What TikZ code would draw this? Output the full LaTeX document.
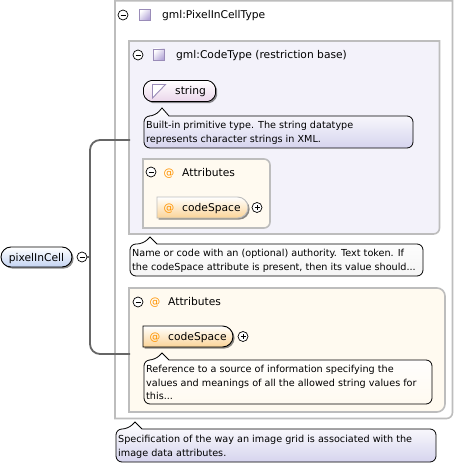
\documentclass[tikz,border=0pt]{standalone}
\usepackage{fontspec}
\setmainfont{DejaVu Sans}
\usetikzlibrary{shadows,calc,shapes.misc}
\definecolor{boxgrey}{HTML}{BDBDBD}
\definecolor{lav}{HTML}{F3F2FA}
\definecolor{cream}{HTML}{FFFAF0}
\definecolor{conn}{HTML}{666666}
\definecolor{lavdeep}{HTML}{D6D4EE}
\definecolor{orangedeep}{HTML}{FBD497}
\definecolor{bluedeep}{HTML}{C4D4F2}
\definecolor{iconedge}{HTML}{9A8CB8}
\definecolor{icondeep}{HTML}{B4A6D8}
\newcommand{\txs}{\fontsize{9.65}{13.8}\selectfont}
\newcommand{\lbl}{\fontsize{10.7}{14}\selectfont}
\tikzset{
  panel/.style={draw=boxgrey,line width=1.6pt},
  note/.style={anchor=west,inner sep=0pt,align=left,font=\txs,text=black},
  lab/.style={anchor=west,inner sep=0pt,font=\lbl,text=black,text height=9pt,text depth=1pt},
  toggle/.style={circle,draw=black,line width=.7pt,fill=white,minimum size=10pt,inner sep=0pt},
  atsign/.style={anchor=center,inner sep=0pt,font=\lbl,text=orange!85!yellow,text height=9pt,text depth=1pt},
  tipline/.style={draw=black,line width=.8pt},
  softshadow/.style={drop shadow={shadow xshift=1.6pt,shadow yshift=-1.6pt,opacity=.45,fill=black}},
  purpleicon/.style={draw=iconedge,line width=.7pt,top color=white,bottom color=icondeep,shading angle=45,minimum size=11pt,inner sep=0pt},
  link/.style={draw=conn,line width=1.8pt,rounded corners=10pt},
  attrbox/.style={rounded rectangle,rounded rectangle left arc=none,softshadow,top color=white,bottom color=orangedeep,inner sep=0pt},
}
\newcommand{\tipbox}[8]{% x1 y1 x2 y2 px tipy top bottom
  \path[tipline,top color=#7,bottom color=#8]
    (#5+7,#2) [rounded corners=6pt] -- (#3,#2) -- (#3,#4) -- (#1,#4) -- (#1,#2) -- (#5-7,#2)
    [sharp corners] -- (#5,#6) -- cycle;
}
\newcommand{\sepbar}[4]{% x1 x2 y bg
  \fill[left color=#4,middle color=black!14,right color=#4] (#1,#3-1) rectangle (#2,#3+1);
}
\newcommand{\minusmark}[1]{\draw[line width=.7pt] ($(#1.center)+(-2.5,0)$) -- ($(#1.center)+(2.5,0)$);}
\newcommand{\plusmark}[1]{\minusmark{#1}\draw[line width=.7pt] ($(#1.center)+(0,-2.5)$) -- ($(#1.center)+(0,2.5)$);}
\begin{document}
\begin{tikzpicture}[x=1pt,y=-1pt]
\useasboundingbox (0,0) rectangle (455,465);
\fill[white] (0,0) rectangle (455,465);

% outer type panel
\path[panel,fill=white] (115,0.8) -- (452.5,0.8) [rounded corners=6pt] -- (452.5,418.5) [sharp corners] -- (115,418.5) -- cycle;
\sepbar{120}{372}{29}{white}
\node[toggle] (t1) at (123,15) {}; \minusmark{t1}
\node[purpleicon] (i1) at (144.5,15) {};
\node[lab] (n1) at (162,15) {gml:PixelInCellType};

% restriction base panel
\path[panel,fill=lav] (129,41) -- (439.5,41) [rounded corners=6pt] -- (439.5,234) [sharp corners] -- (129,234) -- cycle;
\sepbar{131}{365}{69}{lav}
\node[toggle] (t2) at (138,55) {}; \minusmark{t2}
\node[purpleicon] (i2) at (159,54.5) {};
\node[lab] (n2) at (176,55) {gml:CodeType (restriction base)};

% string node
\path[softshadow,draw=black,line width=.8pt,top color=white,bottom color=violet!16,rounded corners=2pt]
  (143.5,86) -- (149,80.5) -- (210,80.5) -- (215.5,86) -- (215.5,96) -- (210,101.5) -- (149,101.5) -- (143.5,96) -- cycle;
\fill[white] (152.5,84.5) -- (165.5,84.5) -- (152.5,98) -- cycle;
\draw[iconedge,line width=.9pt] (165.5,84.5) -- (152.5,84.5) -- (152.5,98) -- cycle;
\node[lab] (n3) at (175,91) {string};
\tipbox{144}{116}{413}{148}{162}{108}{white}{lavdeep}
\node[note] (c1) at (146,132.5) {Built-in primitive type. The string datatype\\represents character strings in XML.};

% nested attributes
\path[panel,fill=cream] (143,159) -- (252,159) [rounded corners=6pt] -- (270,159) -- (270,228) [sharp corners] -- (143,228) -- cycle;
\sepbar{147}{240}{186}{cream}
\node[toggle] (t3) at (151,172) {}; \minusmark{t3}
\node[atsign] (a1) at (169,172) {@};
\node[lab] (n4) at (182,172) {Attributes};
\node[attrbox,draw=boxgrey,line width=.9pt,minimum width=91pt,minimum height=21pt] (cs1) at (202.5,207.5) {};
\node[atsign] (a2) at (169,207.5) {@};
\node[lab] (n5) at (182,207.5) {codeSpace};
\node[toggle] (t4) at (257,207.5) {}; \plusmark{t4}

% note below base panel
\tipbox{130}{244}{423}{276}{150}{237}{white}{white!96!black}
\node[note] (c2) at (132,261) {Name or code with an (optional) authority. Text token. If\\the codeSpace attribute is present, then its value should...};

% lower attributes
\path[panel,fill=cream] (129,288) -- (300,288) [rounded corners=8pt] -- (445,288) -- (445,412) -- (300,412) [sharp corners] -- (129,412) -- cycle;
\sepbar{133}{370}{315}{cream}
\node[toggle] (t5) at (138,302) {}; \minusmark{t5}
\node[atsign] (a3) at (155,301.5) {@};
\node[lab] (n6) at (168,301.5) {Attributes};
\node[attrbox,draw=black,line width=.9pt,minimum width=90pt,minimum height=21pt] (cs2) at (188,336.5) {};
\node[atsign] (a4) at (155,336.5) {@};
\node[lab] (n7) at (168,336.5) {codeSpace};
\node[toggle] (t6) at (243,336.5) {}; \plusmark{t6}
\tipbox{144}{360}{432}{404}{162}{353}{white}{cream}
\node[note] (c3) at (146,382.5) {Reference to a source of information specifying the\\values and meanings of all the allowed string values for\\this...};

% bottom note
\tipbox{116}{429}{436}{462}{135}{422}{white}{lavdeep}
\node[note] (c4) at (118,446.5) {Specification of the way an image grid is associated with the\\image data attributes.};

% root element
\node[rounded rectangle,softshadow,draw=black,line width=.9pt,top color=white,bottom color=bluedeep,minimum width=71pt,minimum height=20pt,inner sep=0pt,font=\lbl,text=black,text height=9pt,text depth=1pt] (root) at (36.5,257) {pixelInCell};
\node[toggle] (t0) at (82,257) {}; \minusmark{t0}

% connectors
\coordinate (upperend) at (130,140);
\coordinate (lowerend) at (130,354);
\coordinate (fork) at (90,257);
\draw[draw=conn,line width=1.2pt] (t0.east) -- (fork);
\draw[link] (upperend) -- (fork|-upperend) -- (fork) -- (fork|-lowerend) -- (lowerend);
\end{tikzpicture}
\end{document}
